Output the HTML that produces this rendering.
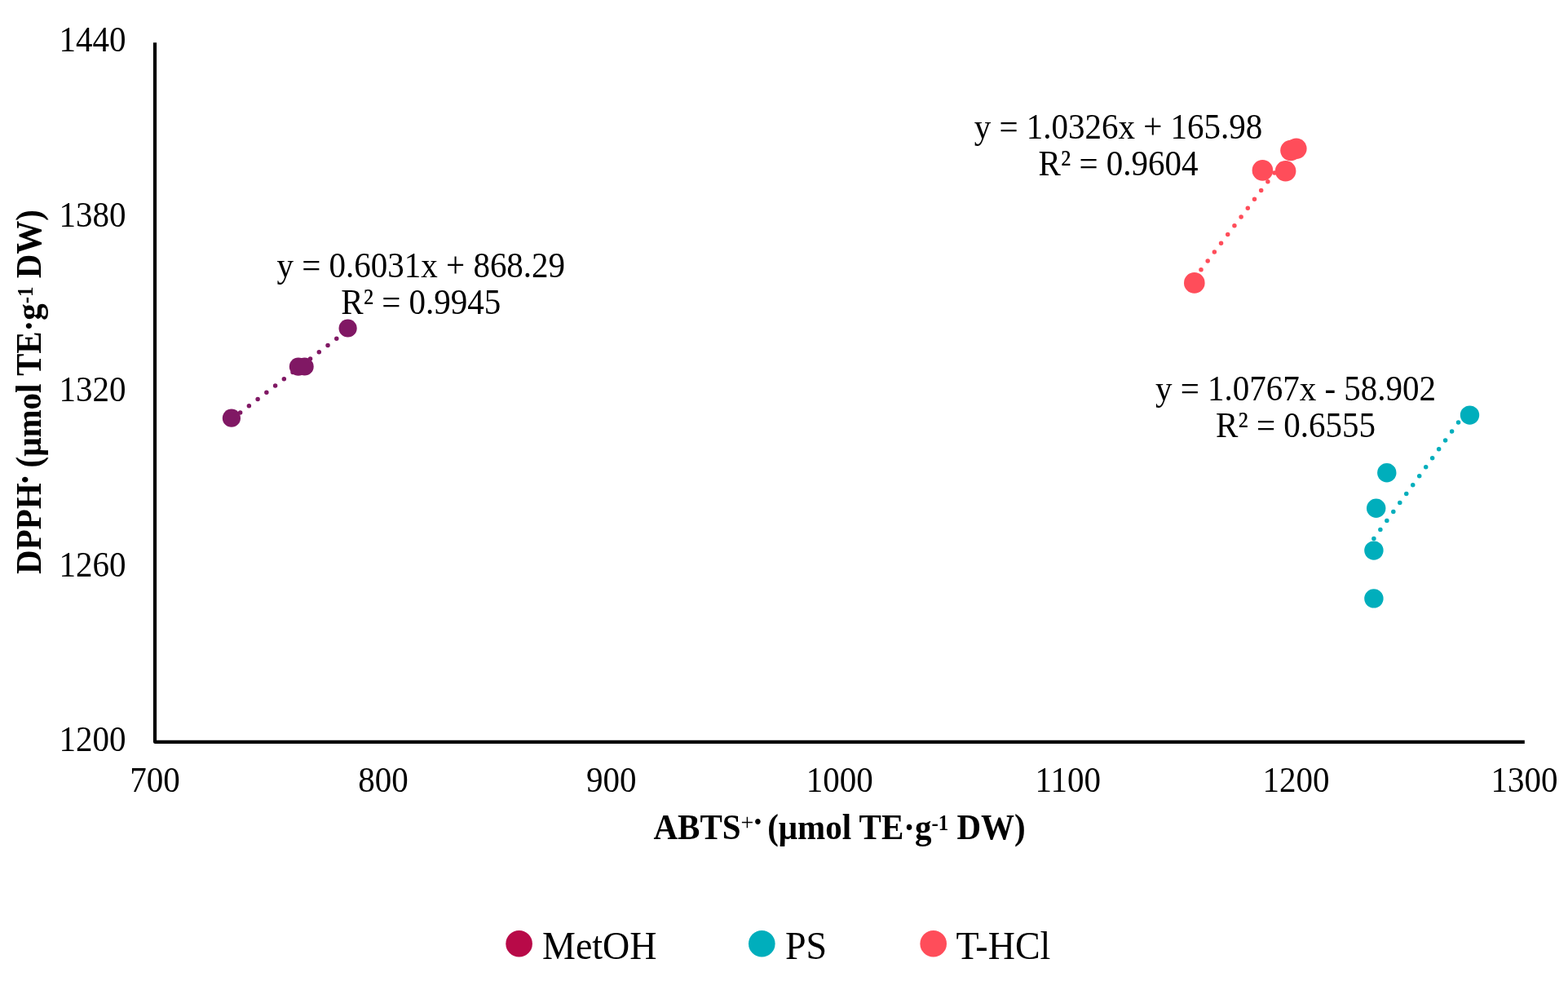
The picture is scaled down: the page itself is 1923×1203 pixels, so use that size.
<!DOCTYPE html>
<html lang="en">
<head>
<meta charset="utf-8">
<title>DPPH vs ABTS correlation</title>
<style>
html,body{margin:0;padding:0;background:#fff;}
body{width:1923px;height:1203px;overflow:hidden;}
svg{display:block;}
text{font-family:"Liberation Serif","Times New Roman",Times,serif;fill:#000;}
.t{font-size:41px;}
.b{font-size:41px;font-weight:bold;}
.l{font-size:46px;}
.sup{font-size:25px;}
</style>
</head>
<body>
<svg width="1923" height="1203" viewBox="0 0 1923 1203">
<rect width="1923" height="1203" fill="#fff"/>

<polyline fill="none" stroke="#000" stroke-width="4.2" stroke-linecap="butt" stroke-linejoin="round" points="190.0,52.3 190.0,909.8 1869.8,909.8"/>
<g class="t">
<text text-anchor="end" transform="translate(154.5,921.1) scale(1,1.07)">1200</text>
<text text-anchor="end" transform="translate(154.5,706.6) scale(1,1.07)">1260</text>
<text text-anchor="end" transform="translate(154.5,492.1) scale(1,1.07)">1320</text>
<text text-anchor="end" transform="translate(154.5,277.6) scale(1,1.07)">1380</text>
<text text-anchor="end" transform="translate(154.5,63.1) scale(1,1.07)">1440</text>
</g>
<g class="t">
<text text-anchor="middle" transform="translate(190.0,970.5) scale(1,1.07)">700</text>
<text text-anchor="middle" transform="translate(469.9,970.5) scale(1,1.07)">800</text>
<text text-anchor="middle" transform="translate(749.8,970.5) scale(1,1.07)">900</text>
<text text-anchor="middle" transform="translate(1029.8,970.5) scale(1,1.07)">1000</text>
<text text-anchor="middle" transform="translate(1309.7,970.5) scale(1,1.07)">1100</text>
<text text-anchor="middle" transform="translate(1589.6,970.5) scale(1,1.07)">1200</text>
<text text-anchor="middle" transform="translate(1869.5,970.5) scale(1,1.07)">1300</text>
</g>
<line x1="283.9" y1="514.3" x2="426.6" y2="404.5" stroke="#801864" stroke-width="5.5" stroke-linecap="round" stroke-dasharray="0 13.55"/>
<line x1="1464.8" y1="341.5" x2="1590.0" y2="176.4" stroke="#ff4d5a" stroke-width="5.5" stroke-linecap="round" stroke-dasharray="0 13.55"/>
<line x1="1684.9" y1="660.4" x2="1802.5" y2="498.8" stroke="#00aebc" stroke-width="5.5" stroke-linecap="round" stroke-dasharray="0 13.55"/>
<g fill="#801864">
<circle cx="283.9" cy="512.7" r="11.1"/>
<circle cx="365.9" cy="449.6" r="11.1"/>
<circle cx="373.6" cy="449.5" r="11.1"/>
<circle cx="426.6" cy="402.5" r="11.1"/>
</g>
<g fill="#00aebc">
<circle cx="1802.5" cy="509.1" r="11.7"/>
<circle cx="1700.8" cy="579.7" r="11.7"/>
<circle cx="1687.7" cy="623.2" r="11.7"/>
<circle cx="1684.9" cy="675.1" r="11.7"/>
<circle cx="1684.9" cy="733.9" r="11.7"/>
</g>
<g fill="#ff4d5a">
<circle cx="1464.8" cy="346.9" r="12.8"/>
<circle cx="1548.4" cy="208.9" r="12.8"/>
<circle cx="1576.6" cy="209.7" r="12.8"/>
<circle cx="1583.0" cy="184.5" r="12.8"/>
<circle cx="1589.8" cy="182.2" r="12.8"/>
</g>
<g class="t">
<text text-anchor="middle" transform="translate(516.3,339.9) scale(1,1.07)">y = 0.6031x + 868.29</text>
<text text-anchor="middle" transform="translate(516.3,384.6) scale(1,1.07)">R² = 0.9945</text>
<text text-anchor="middle" transform="translate(1371.5,170.3) scale(1,1.07)">y = 1.0326x + 165.98</text>
<text text-anchor="middle" transform="translate(1371.5,215.3) scale(1,1.07)">R² = 0.9604</text>
<text text-anchor="middle" transform="translate(1589.0,491.0) scale(1,1.07)">y = 1.0767x - 58.902</text>
<text text-anchor="middle" transform="translate(1589.0,536.1) scale(1,1.07)">R² = 0.6555</text>
</g>
<text class="b" text-anchor="middle" transform="translate(1029.6,1028.6) scale(1,1.07)">ABTS<tspan class="sup" dy="-10" style="font-weight:normal;font-size:28px">+• </tspan><tspan dy="10">(μmol TE·g</tspan><tspan class="sup" dy="-10">-1</tspan><tspan dy="10"> DW)</tspan></text>
<text class="b" text-anchor="middle" transform="translate(50.2,480.5) rotate(-90) scale(1,1.07)">DPPH<tspan class="sup" dy="-10">•</tspan><tspan dy="10"> (μmol TE·g</tspan><tspan class="sup" dy="-10">-1</tspan><tspan dy="10"> DW)</tspan></text>
<circle cx="636.6" cy="1157.2" r="16.3" fill="#b80a48"/>
<circle cx="934.3" cy="1157.2" r="16.3" fill="#00aebc"/>
<circle cx="1144.7" cy="1157.2" r="16.3" fill="#ff4d5a"/>
<g class="l">
<text transform="translate(665.0,1176.3) scale(1,1.07)">MetOH</text>
<text transform="translate(963.0,1176.3) scale(1,1.07)">PS</text>
<text transform="translate(1172.5,1176.3) scale(1,1.07)">T-HCl</text>
</g>
</svg>
</body>
</html>
